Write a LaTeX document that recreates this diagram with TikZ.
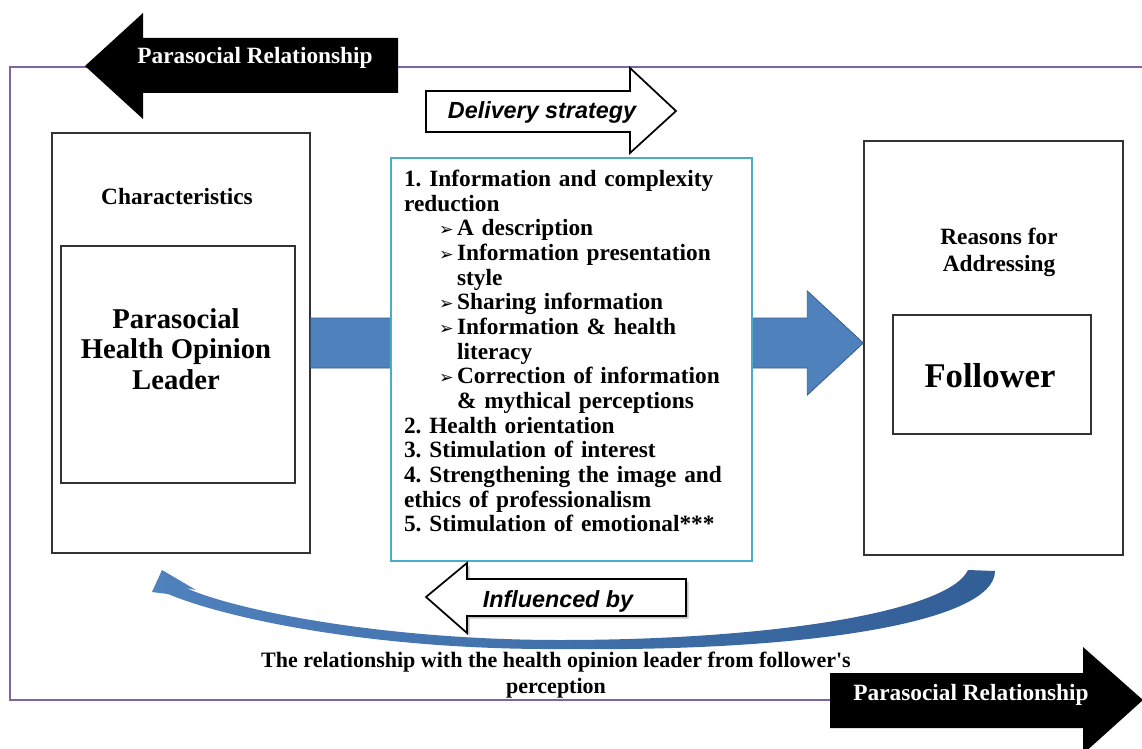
\documentclass[tikz,border=0pt]{standalone}
\usepackage{fontspec}
\setmainfont{Liberation Serif}
\newfontfamily\arialfont{Liberation Sans}
\newfontfamily\dejavu{DejaVu Sans}
\usepackage{xcolor}
\usepackage{tikz}
\usetikzlibrary{calc}
\usetikzlibrary{positioning}
\usetikzlibrary{shadows}
\definecolor{framepurple}{RGB}{128,100,162}
\definecolor{boxteal}{RGB}{75,172,198}
\definecolor{arrowblue}{RGB}{79,129,189}
\definecolor{arrowedge}{RGB}{56,93,138}
\definecolor{curvedark}{RGB}{50,94,150}
\newcommand{\arrowbul}{\makebox[13.5pt][l]{\dejavu\fontsize{13pt}{13pt}\selectfont ➢}}
\frenchspacing

\begin{document}
\begin{tikzpicture}[transform shape,scale=1,x=0.75pt,y=-0.75pt,
		plainbox/.style={draw=black!80,line width=1pt,fill=white},
		whitearrow/.style={draw=black,line width=1.3pt,fill=white,line join=miter},
		serifbold/.style={font=\fontsize{17.5pt}{20pt}\selectfont\bfseries},
		sansbold/.style={font=\arialfont\fontsize{17.5pt}{20pt}\selectfont\bfseries\itshape}]
		\useasboundingbox (0,0) rectangle (1142,749);
		\draw[framepurple,line width=1.5pt] (1142,67) -- (10,67) -- (10,700) -- (1142,700);
		% top and bottom black arrows
		\fill[black] (85,66) -- (143,13) -- (143,38) -- (398,38) -- (398,93) -- (143,93) -- (143,119) -- cycle;
		\node[serifbold,text=white] (prleft) at (255,58) {Parasocial Relationship};
		\fill[black] (1143,700) -- (1083,647) -- (1083,673) -- (830,673) -- (830,728) -- (1083,728) -- (1083,754) -- cycle;
		\node[serifbold,text=white] (prright) at (971,695) {Parasocial Relationship};
		% boxes
		\node[plainbox,minimum width=193.5pt,minimum height=315pt] (charbox) at (181,343) {};
		\node[plainbox,minimum width=175.5pt,minimum height=177.75pt] (leaderbox) at (178,364.5) {};
		\node[serifbold] (chartitle) at (177,197) {Characteristics};
		\node[align=center,font=\fontsize{21.5pt}{23pt}\selectfont\bfseries] (leader) at (176,349) {Parasocial\\Health Opinion\\Leader};
		\node[plainbox,minimum width=194.25pt,minimum height=310.5pt] (reasonbox) at (993.5,348) {};
		\node[plainbox,minimum width=148.5pt,minimum height=89.25pt] (followerbox) at (992,374.5) {};
		\node[serifbold,align=center] (reasontitle) at (999,252.5) {Reasons for\\Addressing};
		\node[font=\fontsize{26pt}{28pt}\selectfont\bfseries] (follower) at (990,376) {Follower};
		% blue flow arrow
		\coordinate (flowstart) at (charbox.east);
		\coordinate (flowend) at (charbox.east -| reasonbox.west);
		\filldraw[fill=arrowblue,draw=arrowedge,line width=0.6pt] ($(flowstart)+(0,-25)$) -- ($(flowend)+(-56,-25)$) -- ($(flowend)+(-56,-52)$) -- (flowend) -- ($(flowend)+(-56,52)$) -- ($(flowend)+(-56,25)$) -- ($(flowstart)+(0,25)$) -- cycle;
		\node[draw=boxteal,line width=1.8pt,fill=white,minimum width=270.75pt,minimum height=302.25pt] (midbox) at (571.5,359.5) {};
		\node[anchor=north west,inner sep=0pt,text width=252pt,align=left,font=\fontsize{17.5pt}{18.5pt}\selectfont\bfseries] (midlist) at ([xshift=10.5pt,yshift=-9.75pt]midbox.north west) {1. Information and complexity\\
			reduction\\
			\hspace*{26.25pt}\arrowbul A description\\
			\hspace*{26.25pt}\arrowbul Information presentation\\
			\hspace*{39.75pt}style\\
			\hspace*{26.25pt}\arrowbul Sharing information\\
			\hspace*{26.25pt}\arrowbul Information \& health\\
			\hspace*{39.75pt}literacy\\
			\hspace*{26.25pt}\arrowbul Correction of information\\
			\hspace*{39.75pt}\& mythical perceptions\\
			2. Health orientation\\
			3. Stimulation of interest\\
			4. Strengthening the image and\\
			ethics of professionalism\\
			5. Stimulation of emotional***};
		% white arrows
		\draw[whitearrow] (426,91) -- (630,91) -- (630,68) -- (676,111) -- (630,153) -- (630,132) -- (426,132) -- cycle;
		\node[sansbold] (delivery) at (542,112) {Delivery strategy};
		% curved arrow back
		\shade[left color=arrowblue,right color=curvedark] (995,571) .. controls (995,620) and (820,652) .. (560,649) .. controls (380,650) and (230,620) .. (168,594) -- (152,592) -- (162,570) -- (196,590) -- (186,588) .. controls (240,612) and (390,640) .. (560,640) .. controls (780,640) and (950,610) .. (968,570) -- cycle;
		\draw[whitearrow,drop shadow={opacity=0.45,shadow xshift=2pt,shadow yshift=-2pt}] (426,597) -- (467,563) -- (467,579) -- (686,579) -- (686,616) -- (467,616) -- (467,633) -- cycle;
		\node[sansbold] (influenced) at (558,601) {Influenced by};
		\node[align=center,font=\fontsize{16.5pt}{19.5pt}\selectfont\bfseries] (relation) at (556,675) {The relationship with the health opinion leader from follower\textquotesingle s\\perception};
	\end{tikzpicture}
\end{document}
